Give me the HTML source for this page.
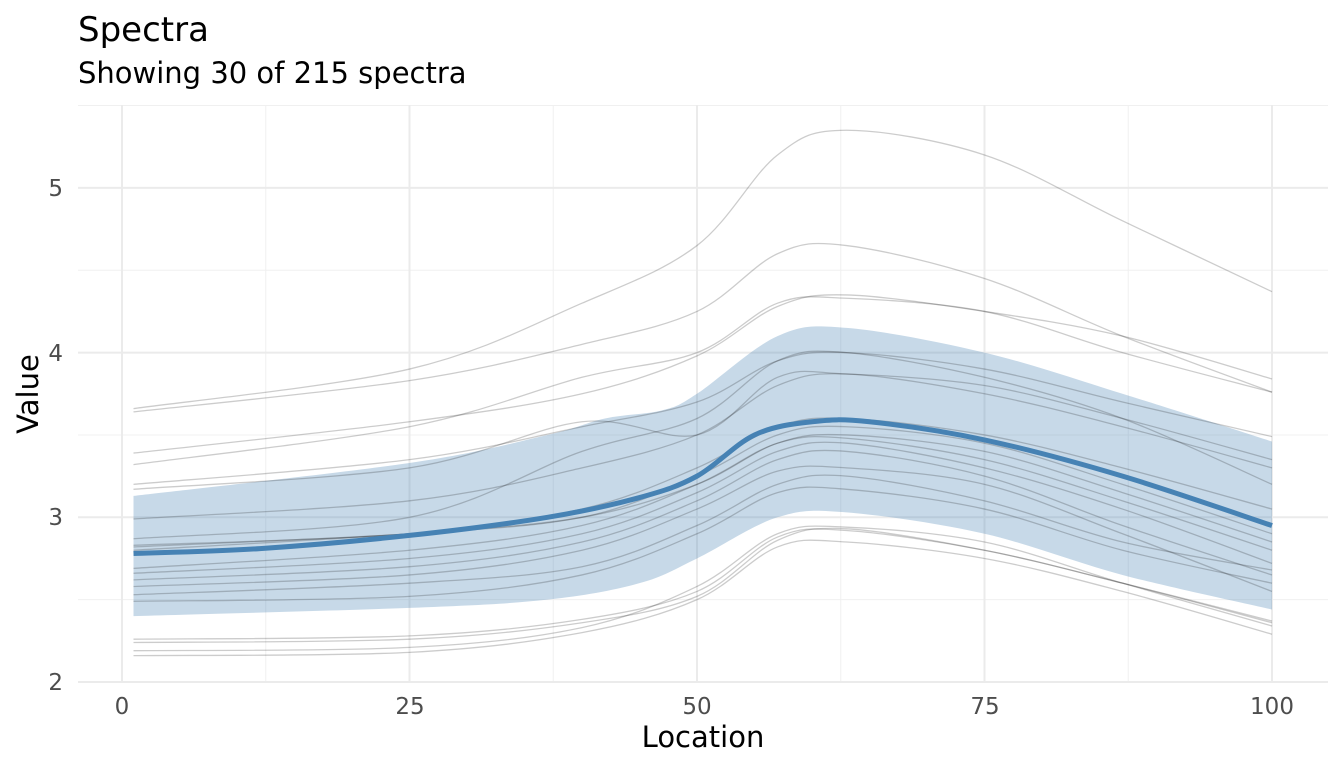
<!DOCTYPE html>
<html><head><meta charset="utf-8"><style>
html,body{margin:0;padding:0;background:#fff;}
svg{display:block;font-family:"DejaVu Sans","Liberation Sans",sans-serif;}
</style></head><body>
<svg id="s" width="1344" height="768" viewBox="0 0 1344 768" xmlns="http://www.w3.org/2000/svg">
<rect width="1344" height="768" fill="#fff"/>
<g id="grid"></g>
<g id="ribbon"></g>
<g id="lines"></g>
<g id="mean"></g>
<text x="78" y="41" font-size="34" fill="#000">Spectra</text>
<text x="78" y="83" font-size="29" fill="#000">Showing 30 of 215 spectra</text>
<text x="703" y="747" font-size="29" text-anchor="middle" fill="#000">Location</text>
<text transform="translate(38,394) rotate(-90)" font-size="29" text-anchor="middle" fill="#000">Value</text>
<g font-size="23" fill="#4d4d4d" text-anchor="middle">
<text x="122" y="714">0</text><text x="410" y="714">25</text><text x="697" y="714">50</text><text x="985" y="714">75</text><text x="1272" y="714">100</text>
</g>
<g font-size="23" fill="#4d4d4d" text-anchor="end">
<text x="63" y="690">2</text><text x="63" y="525">3</text><text x="63" y="361">4</text><text x="63" y="196">5</text>
</g>
</svg>
<script>
const X=v=>122+v*11.5, Y=v=>682-(v-2)*164.7;
const ns="http://www.w3.org/2000/svg";
function el(p,t,a){const e=document.createElementNS(ns,t);for(const k in a)e.setAttribute(k,a[k]);document.getElementById(p).appendChild(e);return e;}
for(let v=12.5;v<=100;v+=25)el("grid","line",{x1:X(v),x2:X(v),y1:105,y2:682,stroke:"#f0f0f0","stroke-width":1});
for(let v=2.5;v<=5.5;v+=1)el("grid","line",{x1:78,x2:1328,y1:Y(v),y2:Y(v),stroke:"#f0f0f0","stroke-width":1});
for(let v=0;v<=100;v+=25)el("grid","line",{x1:X(v),x2:X(v),y1:105,y2:682,stroke:"#ebebeb","stroke-width":2});
for(let v=2;v<=5;v+=1)el("grid","line",{x1:78,x2:1328,y1:Y(v),y2:Y(v),stroke:"#ebebeb","stroke-width":2});
function cr(pts){let d="M"+pts[0][0]+","+pts[0][1];for(let i=0;i<pts.length-1;i++){const p0=pts[Math.max(0,i-1)],p1=pts[i],p2=pts[i+1],p3=pts[Math.min(pts.length-1,i+2)];
d+=" C"+(p1[0]+(p2[0]-p0[0])/6)+","+(p1[1]+(p2[1]-p0[1])/6)+" "+(p2[0]-(p3[0]-p1[0])/6)+","+(p2[1]-(p3[1]-p1[1])/6)+" "+p2[0]+","+p2[1];}return d;}
const P=(xs,vs)=>xs.map((x,i)=>[X(x),Y(vs[i])]);
const up=P([1,25,37,42,47,50,57,63,75,87,100],[3.13,3.33,3.5,3.6,3.65,3.75,4.1,4.15,4.0,3.75,3.46]);
const lo=P([1,25,37,45,50,57,63,75,87,100],[2.4,2.45,2.5,2.6,2.75,3.0,3.03,2.9,2.65,2.44]);
let d=cr(up);const lr=lo.slice().reverse();d+=" L"+lr[0][0]+","+lr[0][1]+cr(lr).replace(/^M[^ ]+/,"")+" Z";
el("ribbon","path",{d:d,fill:"#4682b4","fill-opacity":0.3});
const xs=[1,25,40,50,57,63,75,87,100];
const C=[[3.66,3.9,4.3,4.65,5.2,5.35,5.2,4.8,4.37],[3.64,3.83,4.05,4.25,4.6,4.65,4.45,4.1,3.76],[3.39,3.58,3.75,3.98,4.28,4.35,4.25,4.1,3.84],[3.32,3.55,3.85,4.0,4.3,4.33,4.25,4.0,3.76],[3.2,3.35,3.55,3.7,3.95,4.0,3.9,3.7,3.49],[3.17,3.3,3.58,3.5,3.85,3.87,3.8,3.6,3.35],[2.99,3.1,3.3,3.5,3.8,3.87,3.75,3.55,3.3],[2.87,3.0,3.4,3.6,3.95,4.0,3.85,3.6,3.2],[2.83,2.9,3.05,3.3,3.55,3.6,3.5,3.3,3.05],[2.82,2.9,3.0,3.25,3.5,3.55,3.45,3.2,2.9],[2.8,2.9,3.0,3.2,3.45,3.5,3.4,3.15,2.85],[2.69,2.8,2.95,3.2,3.45,3.48,3.35,3.1,2.8],[2.66,2.75,2.9,3.15,3.4,3.45,3.3,3.05,2.72],[2.62,2.7,2.85,3.1,3.35,3.4,3.25,2.95,2.65],[2.58,2.65,2.8,3.05,3.28,3.3,3.2,2.9,2.55],[2.53,2.6,2.7,2.95,3.2,3.25,3.1,2.85,2.68],[2.49,2.52,2.65,2.9,3.15,3.17,3.05,2.8,2.6],[2.26,2.28,2.38,2.55,2.88,2.92,2.8,2.6,2.37],[2.24,2.26,2.36,2.52,2.86,2.93,2.8,2.6,2.36],[2.19,2.21,2.33,2.58,2.9,2.94,2.85,2.6,2.34],[2.16,2.18,2.3,2.5,2.82,2.85,2.75,2.55,2.29]];
C.forEach(c=>el("lines","path",{d:cr(P(xs,c)),fill:"none",stroke:"#000","stroke-opacity":0.2,"stroke-width":1.3}));
el("mean","path",{d:cr(P([1,12,25,37,45,50,55,60,65,75,87,100],[2.78,2.81,2.89,3.0,3.12,3.25,3.5,3.58,3.58,3.47,3.25,2.95])),fill:"none",stroke:"#4682b4","stroke-width":5});
</script>
</body></html>
